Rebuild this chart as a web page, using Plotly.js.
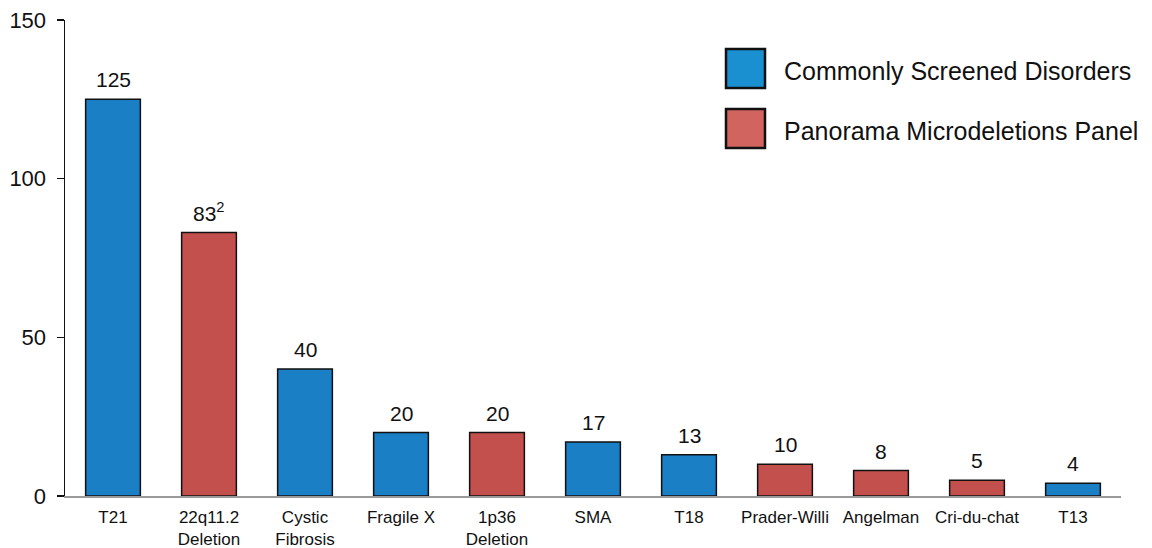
<!DOCTYPE html>
<html>
<head>
<meta charset="utf-8">
<script src="https://cdn.plot.ly/plotly-3.0.1.min.js"></script>
<style>html,body{margin:0;padding:0;background:#fff;}#chart{width:1152px;height:548px;}</style>
</head>
<body>
<div id="chart"></div>
<script>
const categories = ["T21", "22q11.2<br>Deletion", "Cystic<br>Fibrosis", "Fragile X", "1p36<br>Deletion", "SMA", "T18", "Prader-Willi", "Angelman", "Cri-du-chat", "T13"];
const values = [125, 83, 40, 20, 20, 17, 13, 10, 8, 5, 4];
const valueLabels = ["125", "83<sup>2</sup>", "40", "20", "20", "17", "13", "10", "8", "5", "4"];
const groups = ["Commonly Screened Disorders", "Panorama Microdeletions Panel", "Commonly Screened Disorders", "Commonly Screened Disorders", "Panorama Microdeletions Panel", "Commonly Screened Disorders", "Commonly Screened Disorders", "Panorama Microdeletions Panel", "Panorama Microdeletions Panel", "Panorama Microdeletions Panel", "Commonly Screened Disorders"];
const legendNames = ["Commonly Screened Disorders", "Panorama Microdeletions Panel"];
const barColors = {"Commonly Screened Disorders": "#1a7fc4", "Panorama Microdeletions Panel": "#c4504e"};
const legendColors = {"Commonly Screened Disorders": "#1b90d0", "Panorama Microdeletions Panel": "#d1645f"};

const font = "Liberation Sans, Arial, sans-serif";

const trace = {
  type: "bar",
  x: categories,
  y: values,
  width: 0.57,
  marker: {color: groups.map(g => barColors[g]), line: {color: "#111", width: 1.5}},
  hoverinfo: "x+y",
  showlegend: false
};

const annotations = categories.map((c, i) => ({
  x: c, y: values[i], xref: "x", yref: "y",
  text: valueLabels[i], showarrow: false,
  yanchor: "bottom", yshift: 6,
  font: {family: font, size: 21, color: "#111"}
}));

const shapes = [];
legendNames.forEach((name, k) => {
  const top = 49 + k * 60;
  shapes.push({
    type: "rect", xref: "paper", yref: "paper",
    x0: (726 - 65) / 1056, x1: (765 - 65) / 1056,
    y0: 1 - (top - 20) / 476, y1: 1 - (top + 39 - 20) / 476,
    fillcolor: legendColors[name], line: {color: "#111", width: 2.5}
  });
  annotations.push({
    xref: "paper", yref: "paper",
    x: (782 - 65) / 1056, y: 1 - (top + 22 - 20) / 476,
    xanchor: "left", yanchor: "middle",
    text: name, showarrow: false,
    font: {family: font, size: 25, color: "#111"}
  });
});

const layout = {
  width: 1152, height: 548,
  margin: {l: 65, r: 31, t: 20, b: 52},
  paper_bgcolor: "#fff", plot_bgcolor: "#fff",
  font: {family: font, color: "#111"},
  xaxis: {
    range: [-0.5, 10.5], showgrid: false, zeroline: false,
    showline: true, linecolor: "#999", linewidth: 1.5,
    ticks: "", tickfont: {family: font, size: 17, color: "#111"},
    tickangle: 0, ticklabelstandoff: 5, fixedrange: true
  },
  yaxis: {
    range: [0, 150], tickvals: [0, 50, 100, 150], showgrid: false, zeroline: false,
    showline: true, linecolor: "#111", linewidth: 1.5,
    ticks: "outside", ticklen: 7, tickwidth: 1.5, tickcolor: "#111",
    ticklabelstandoff: 6,
    tickfont: {family: font, size: 22, color: "#111"}, fixedrange: true
  },
  bargap: 0.43,
  annotations: annotations,
  shapes: shapes,
  showlegend: false
};

Plotly.newPlot("chart", [trace], layout, {displayModeBar: false, staticPlot: true});
</script>
</body>
</html>
